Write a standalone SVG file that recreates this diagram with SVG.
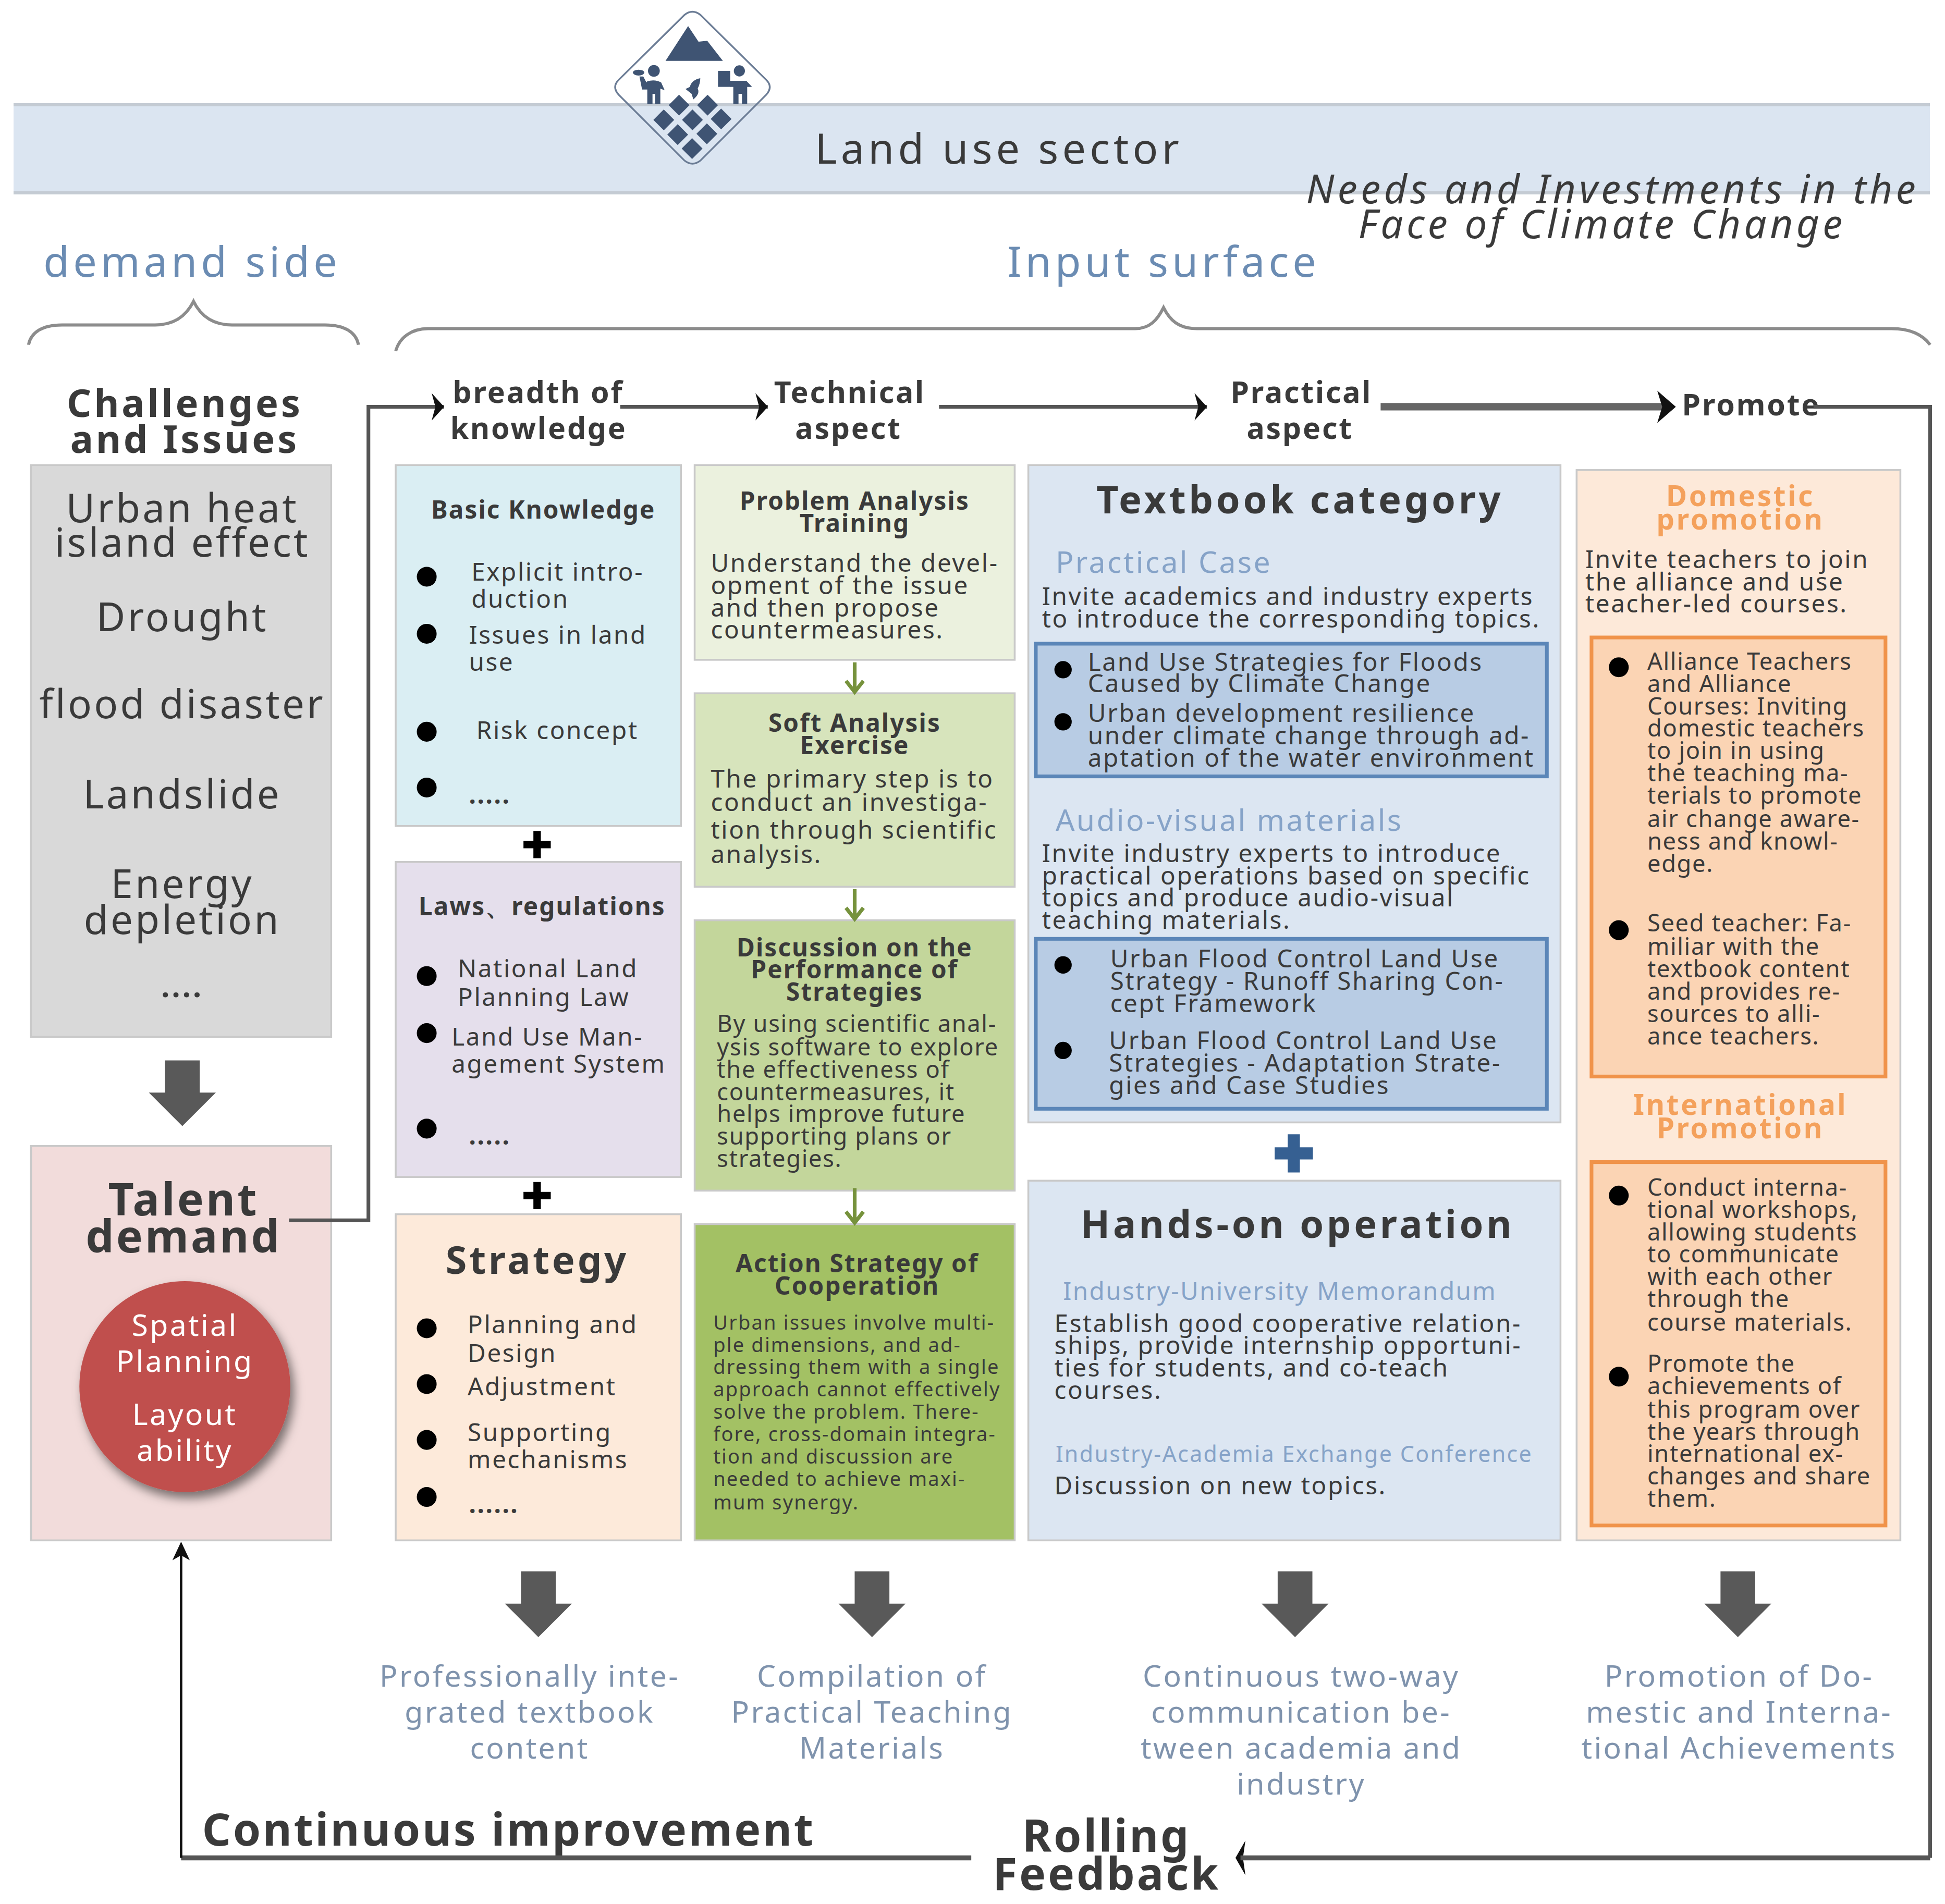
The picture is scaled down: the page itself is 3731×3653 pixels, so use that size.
<svg xmlns="http://www.w3.org/2000/svg" width="3731" height="3653" viewBox="0 0 3731 3653">
<style>
text{font-family:"Noto Sans","Open Sans","Liberation Sans",sans-serif;fill:#3a3a3a}
.m{text-anchor:middle}
.blue{fill:#6b8cb3}
.lt{fill:#86a3c8}
.f20{font-size:20px;letter-spacing:1.1px}
.f19{font-size:19px;letter-spacing:.7px}
.f16{font-size:16px;letter-spacing:.9px}
.hd{font-size:24px;font-weight:700;letter-spacing:1.2px}
.t20{font-size:20px;font-weight:700;letter-spacing:.9px}
.side{font-size:34px;letter-spacing:3px}
.ch{font-size:32px;letter-spacing:1.8px}
.bot{font-size:24px;letter-spacing:1.4px}
.bot text{fill:#7f93ad}
.or{font-size:23px;font-weight:700;letter-spacing:1.5px}
.or text{fill:#f4a15c}
.wh text{fill:#fff}
.box{stroke:#c9c9c9;stroke-width:1.5}
.in{stroke-width:3}
.blt{fill:#000}
.cn{fill:none;stroke:#555;stroke-width:3}
.brace{fill:none;stroke:#8c8c8c;stroke-width:2.5}
.gr{fill:none;stroke:#76923c;stroke-width:3}
.ic{fill:#3f5473}
</style>
<defs>
<filter id="sh" x="-20%" y="-20%" width="150%" height="150%"><feDropShadow dx="3" dy="5" stdDeviation="4" flood-color="#000" flood-opacity=".5"/></filter>
<marker id="ah" markerWidth="14" markerHeight="22" refX="12" refY="11" orient="auto" markerUnits="userSpaceOnUse"><path d="M2 0L12 11L2 22L5 11Z" fill="#111"/></marker>
<path id="big" d="M-14 0H14V26H27L0 53L-27 26H-14Z" fill="#595959"/>
<path id="plus" d="M-3 -11H3V-3H11V3H3V11H-3V3H-11V-3H-3Z"/>
<path id="dm" d="M0 -60L60 0L0 60L-60 0Z"/>
</defs>
<g id="header"><rect x="26" y="200" width="3676" height="171" fill="#dbe5f1"/><path d="M26 201H3702M26 370H3702" stroke="#c4cbd3" stroke-width="6" fill="none"/></g>
<g id="icon" transform="translate(1160 10) scale(.3333)">
<path d="M460 55Q505 20 550 55L930 430Q970 470 930 515L550 895Q505 930 460 895L80 515Q40 470 80 430Z" fill="none" stroke="#6b7c95" stroke-width="10"/>
<g class="ic"><path d="M480 120L540 210L590 205L680 320H350Z"/>
<circle cx="283" cy="378" r="34"/><ellipse cx="195" cy="388" rx="33" ry="17"/>
<path d="M245 438Q290 425 325 445L345 490L320 480V570H290V510H275V570H245V485H215L200 410H222L240 445Z"/>
<circle cx="775" cy="378" r="32"/><rect x="652" y="378" width="70" height="92"/>
<path d="M735 435H815L848 470L820 470V570H790V510H770V570H740V470H720V435Z"/>
<path d="M550 420Q500 430 490 470L465 482L500 510L510 542Q550 510 535 480Q550 450 550 420Z"/>
<use href="#dm" x="428" y="575"/><use href="#dm" x="592" y="575"/><use href="#dm" x="340" y="660"/><use href="#dm" x="505" y="660"/><use href="#dm" x="670" y="655"/><use href="#dm" x="420" y="745"/><use href="#dm" x="588" y="740"/><use href="#dm" x="503" y="825"/></g></g>
<g transform="scale(2.3795)">
<text id="title" x="657" y="132" font-size="34" letter-spacing="3">Land use sector</text>
<g id="side-labels"><text class="side blue" x="35" y="223">demand side</text><text class="side blue" x="812" y="223">Input surface</text>
<text x="1053" y="164" font-size="32" font-style="italic" letter-spacing="2.700">Needs and Investments in the</text><text x="1095" y="192" font-size="32" font-style="italic" letter-spacing="2.700">Face of Climate Change</text></g>
<g id="braces"><path class="brace" d="M23 278C25 268 34 262 50 262H125C140 262 150 255 156 243C162 255 172 262 187 262H262C278 262 287 268 289 278"/>
<path class="brace" d="M319 283C322 272 332 265 345 265H915C927 265 933 258 938 248C943 258 950 265 965 265H1525C1540 265 1550 270 1556 278"/></g>
<g id="headers" class="hd">
<text x="365" y="325">breadth of</text><text x="363" y="354">knowledge</text>
<text x="624" y="325">Technical</text><text class="m" x="684" y="354">aspect</text>
<text x="992" y="325">Practical</text><text class="m" x="1048" y="354">aspect</text>
<text x="1356" y="335">Promote</text></g>
<g id="challenges"><rect class="box" x="25" y="375" width="242" height="461" fill="#d9d9d9"/>
<g class="m" font-size="31" font-weight="700" letter-spacing="2.100"><text x="149" y="336">Challenges</text><text x="149" y="365">and Issues</text></g>
<g class="m ch"><text x="147" y="421">Urban heat</text><text x="147" y="449">island effect</text><text x="147" y="509">Drought</text><text x="147" y="579">flood disaster</text><text x="147" y="652">Landslide</text><text x="147" y="724">Energy</text><text x="147" y="753">depletion</text><text x="147" y="804" font-size="24" font-weight="700">....</text></g></g>
<g id="talent"><rect class="box" x="25" y="924" width="242" height="318" fill="#f2dcdb"/>
<g class="m" font-size="36" font-weight="700" letter-spacing="1.800"><text x="148" y="980">Talent</text><text x="148" y="1010">demand</text></g>
<circle cx="149" cy="1118" r="85" fill="#c0504d" filter="url(#sh)"/>
<g class="m wh" font-size="24" letter-spacing="1.400"><text x="149" y="1077">Spatial</text><text x="149" y="1106">Planning</text><text x="149" y="1149">Layout</text><text x="149" y="1178">ability</text></g></g>
<g id="basic"><rect class="box" x="319" y="375" width="230" height="291" fill="#daeef3"/>
<text class="m t20" x="438" y="418">Basic Knowledge</text>
<g class="blt"><circle cx="344" cy="465" r="8"/><circle cx="344" cy="511" r="8"/><circle cx="344" cy="590" r="8"/><circle cx="344" cy="635" r="8"/></g>
<g class="f20"><text x="380" y="468">Explicit intro-</text><text x="380" y="490">duction</text><text x="378" y="519">Issues in land</text><text x="378" y="541">use</text><text x="384" y="596">Risk concept</text><text x="378" y="648" font-weight="700">.....</text></g></g>
<g id="laws"><rect class="box" x="319" y="695" width="230" height="254" fill="#e5dfec"/>
<text class="m t20" x="437" y="738" font-family="Noto Sans,Noto Sans CJK SC,sans-serif">Laws、regulations</text>
<g class="blt"><circle cx="344" cy="787" r="8"/><circle cx="344" cy="833" r="8"/><circle cx="344" cy="910" r="8"/></g>
<g class="f20"><text x="369" y="788">National Land</text><text x="369" y="811">Planning Law</text><text x="364" y="843">Land Use Man-</text><text x="364" y="865">agement System</text><text x="378" y="923" font-weight="700">.....</text></g></g>
<g id="strategy"><rect class="box" x="319" y="979" width="230" height="263" fill="#fdeada"/>
<text class="m" x="433" y="1027" font-size="31" font-weight="700" letter-spacing="2">Strategy</text>
<g class="blt"><circle cx="344" cy="1071" r="8"/><circle cx="344" cy="1116" r="8"/><circle cx="344" cy="1161" r="8"/><circle cx="344" cy="1207" r="8"/></g>
<g class="f20"><text x="377" y="1075">Planning and</text><text x="377" y="1098">Design</text><text x="377" y="1125">Adjustment</text><text x="377" y="1162">Supporting</text><text x="377" y="1184">mechanisms</text><text x="378" y="1220" font-weight="700">......</text></g></g>
<g id="problem"><rect class="box" x="560" y="375" width="258" height="157" fill="#ebf1de"/>
<g class="m t20"><text x="689" y="411">Problem Analysis</text><text x="689" y="429">Training</text></g>
<g class="f20"><text x="573" y="461">Understand the devel-</text><text x="573" y="479">opment of the issue</text><text x="573" y="497">and then propose</text><text x="573" y="515">countermeasures.</text></g></g>
<g id="soft"><rect class="box" x="560" y="559" width="258" height="156" fill="#d7e4bc"/>
<g class="m t20"><text x="689" y="590">Soft Analysis</text><text x="689" y="608">Exercise</text></g>
<g class="f20"><text x="573" y="635">The primary step is to</text><text x="573" y="654">conduct an investiga-</text><text x="573" y="676">tion through scientific</text><text x="573" y="696">analysis.</text></g></g>
<g id="discussion"><rect class="box" x="560" y="742" width="258" height="218" fill="#c3d69b"/>
<g class="m t20"><text x="689" y="771">Discussion on the</text><text x="689" y="789">Performance of</text><text x="689" y="807">Strategies</text></g>
<g class="f19"><text x="578" y="832">By using scientific anal-</text><text x="578" y="851">ysis software to explore</text><text x="578" y="869">the effectiveness of</text><text x="578" y="887">countermeasures, it</text><text x="578" y="905">helps improve future</text><text x="578" y="923">supporting plans or</text><text x="578" y="941">strategies.</text></g></g>
<g id="action"><rect class="box" x="560" y="987" width="258" height="255" fill="#a3c164"/>
<g class="m t20"><text x="691" y="1026">Action Strategy of</text><text x="691" y="1044">Cooperation</text></g>
<g class="f16"><text x="575" y="1072">Urban issues involve multi-</text><text x="575" y="1090">ple dimensions, and ad-</text><text x="575" y="1108">dressing them with a single</text><text x="575" y="1126">approach cannot effectively</text><text x="575" y="1144">solve the problem. There-</text><text x="575" y="1162">fore, cross-domain integra-</text><text x="575" y="1180">tion and discussion are</text><text x="575" y="1198">needed to achieve maxi-</text><text x="575" y="1217">mum synergy.</text></g></g>
<g id="textbook"><rect class="box" x="829" y="375" width="429" height="530" fill="#dce6f2"/>
<text class="m" x="1048" y="414" font-size="31" font-weight="700" letter-spacing="2.400">Textbook category</text>
<text class="lt" x="851" y="462" font-size="24" letter-spacing="1.400">Practical Case</text>
<g class="f20"><text x="840" y="488">Invite academics and industry experts</text><text x="840" y="506">to introduce the corresponding topics.</text></g>
<rect class="in" x="835" y="519" width="412" height="107" fill="#b8cce4" stroke="#5b86b8"/>
<g class="blt"><circle cx="857" cy="540" r="7"/><circle cx="857" cy="582" r="7"/></g>
<g class="f20"><text x="877" y="541">Land Use Strategies for Floods</text><text x="877" y="558">Caused by Climate Change</text><text x="877" y="582">Urban development resilience</text><text x="877" y="600">under climate change through ad-</text><text x="877" y="618">aptation of the water environment</text></g>
<text class="lt" x="851" y="670" font-size="24" letter-spacing="1.400">Audio-visual materials</text>
<g class="f20"><text x="840" y="695">Invite industry experts to introduce</text><text x="840" y="713">practical operations based on specific</text><text x="840" y="731">topics and produce audio-visual</text><text x="840" y="749">teaching materials.</text></g>
<rect class="in" x="835" y="757" width="412" height="137" fill="#b8cce4" stroke="#5b86b8"/>
<g class="blt"><circle cx="857" cy="778" r="7"/><circle cx="857" cy="847" r="7"/></g>
<g class="f20"><text x="895" y="780">Urban Flood Control Land Use</text><text x="895" y="798">Strategy - Runoff Sharing Con-</text><text x="895" y="816">cept Framework</text><text x="894" y="846">Urban Flood Control Land Use</text><text x="894" y="864">Strategies - Adaptation Strate-</text><text x="894" y="882">gies and Case Studies</text></g></g>
<g id="handson"><rect class="box" x="829" y="952" width="429" height="290" fill="#dce6f2"/>
<text class="m" x="1046" y="998" font-size="31" font-weight="700" letter-spacing="2.400">Hands-on operation</text>
<text class="lt" x="857" y="1048" font-size="20" letter-spacing="1">Industry-University Memorandum</text>
<g class="f20"><text x="850" y="1074">Establish good cooperative relation-</text><text x="850" y="1092">ships, provide internship opportuni-</text><text x="850" y="1110">ties for students, and co-teach</text><text x="850" y="1128">courses.</text></g>
<text class="lt" x="851" y="1179" font-size="18" letter-spacing="1">Industry-Academia Exchange Conference</text>
<text class="f20" x="850" y="1205">Discussion on new topics.</text></g>
<g id="promote"><rect class="box" x="1271" y="379" width="261" height="863" fill="#fde9d9"/>
<g class="m or"><text x="1403" y="408">Domestic</text><text x="1403" y="427">promotion</text><text x="1403" y="899">International</text><text x="1403" y="918">Promotion</text></g>
<g class="f20"><text x="1278" y="458">Invite teachers to join</text><text x="1278" y="476">the alliance and use</text><text x="1278" y="494">teacher-led courses.</text></g>
<rect class="in" x="1283" y="514" width="237" height="354" fill="#fbd4b4" stroke="#f0934a"/>
<rect class="in" x="1283" y="937" width="237" height="293" fill="#fbd4b4" stroke="#f0934a"/>
<g class="blt"><circle cx="1305" cy="538" r="8"/><circle cx="1305" cy="750" r="8"/><circle cx="1305" cy="964" r="8"/><circle cx="1305" cy="1110" r="8"/></g>
<g class="f19"><text x="1328" y="540">Alliance Teachers</text><text x="1328" y="558">and Alliance</text><text x="1328" y="576">Courses: Inviting</text><text x="1328" y="594">domestic teachers</text><text x="1328" y="612">to join in using</text><text x="1328" y="630">the teaching ma-</text><text x="1328" y="648">terials to promote</text><text x="1328" y="667">air change aware-</text><text x="1328" y="685">ness and knowl-</text><text x="1328" y="703">edge.</text>
<text x="1328" y="751">Seed teacher: Fa-</text><text x="1328" y="770">miliar with the</text><text x="1328" y="788">textbook content</text><text x="1328" y="806">and provides re-</text><text x="1328" y="824">sources to alli-</text><text x="1328" y="842">ance teachers.</text>
<text x="1328" y="964">Conduct interna-</text><text x="1328" y="982">tional workshops,</text><text x="1328" y="1000">allowing students</text><text x="1328" y="1018">to communicate</text><text x="1328" y="1036">with each other</text><text x="1328" y="1054">through the</text><text x="1328" y="1073">course materials.</text>
<text x="1328" y="1106">Promote the</text><text x="1328" y="1124">achievements of</text><text x="1328" y="1143">this program over</text><text x="1328" y="1161">the years through</text><text x="1328" y="1179">international ex-</text><text x="1328" y="1197">changes and share</text><text x="1328" y="1215">them.</text></g></g>
<g id="outcomes" class="m bot">
<text x="427" y="1360">Professionally inte-</text><text x="427" y="1389">grated textbook</text><text x="427" y="1418">content</text>
<text x="703" y="1360">Compilation of</text><text x="703" y="1389">Practical Teaching</text><text x="703" y="1418">Materials</text>
<text x="1049" y="1360">Continuous two-way</text><text x="1049" y="1389">communication be-</text><text x="1049" y="1418">tween academia and</text><text x="1049" y="1447">industry</text>
<text x="1402" y="1360">Promotion of Do-</text><text x="1402" y="1389">mestic and Interna-</text><text x="1402" y="1418">tional Achievements</text></g>
<g id="feedback" font-size="36" font-weight="700" letter-spacing="1.600"><text x="163" y="1488">Continuous improvement</text><text class="m" x="892" y="1493">Rolling</text><text class="m" x="892" y="1524">Feedback</text></g>
<g id="connectors">
<path class="cn" d="M233 984H297V328H358" marker-end="url(#ah)"/>
<path class="cn" d="M500 328H619" marker-end="url(#ah)"/>
<path class="cn" d="M757 328H973" marker-end="url(#ah)"/>
<path class="cn" style="stroke-width:6;stroke:#666" d="M1113 328H1346"/><path d="M1336 315L1351 328L1336 341L1340 328Z" fill="#111"/>
<path class="cn" d="M1462 328H1556V1498"/><path d="M1004 1484L996 1498L1004 1512L1002 1498Z" fill="#111"/>
<path class="cn" style="stroke-width:4" d="M1556 1498H1000"/>
<path class="cn" style="stroke-width:4" d="M783 1498H146"/>
<path class="cn" style="stroke:#111;stroke-width:2" d="M146 1498V1245"/><path d="M146 1243L153 1258L146 1254L139 1258Z" fill="#111"/>
<use href="#big" x="147" y="855"/><use href="#big" x="434" y="1267"/><use href="#big" x="703" y="1267"/><use href="#big" x="1044" y="1267"/><use href="#big" x="1401" y="1267"/>
<path class="gr" d="M689 534V556M682 549L689 558L696 549"/>
<path class="gr" d="M689 717V739M682 732L689 741L696 732"/>
<path class="gr" d="M689 958V984M682 977L689 986L696 977"/>
<use href="#plus" x="433" y="681"/><use href="#plus" x="433" y="964"/><path transform="translate(1043 930) scale(1.400)" d="M-3.500 -11H3.500V-3.500H11V3.500H3.500V11H-3.500V3.500H-11V-3.500H-3.500Z" fill="#366092"/>
</g>
</g>
</svg>
